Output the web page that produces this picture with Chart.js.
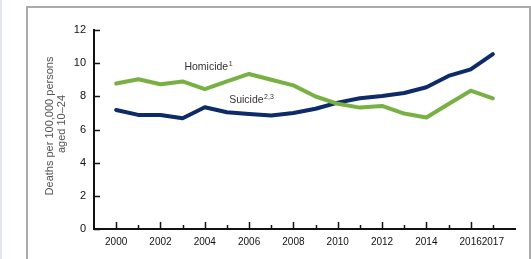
<!DOCTYPE html>
<html>
<head>
<meta charset="utf-8">
<script src="https://cdn.jsdelivr.net/npm/chart.js@4"></script>
<style>
    html, body { margin: 0; padding: 0; background: #fff; }
    body { width: 531px; height: 259px; position: relative; overflow: hidden; }
    #edge { position: absolute; left: 0; top: 0; width: 2px; height: 259px; background: #e2e7ef; }
    #frame { position: absolute; left: 26px; top: 6px; width: 501px; height: 270px;
             border-left: 2px solid #ababab; border-top: 2px solid #ababab; border-right: 2px solid #ababab; }
    #chart { position: absolute; left: 0; top: 0; }
</style>
</head>
<body>
<div id="edge"></div>
<div id="frame"></div>
<canvas id="chart" width="531" height="259"></canvas>
<script>
const years = [2000, 2001, 2002, 2003, 2004, 2005, 2006, 2007, 2008, 2009, 2010, 2011, 2012, 2013, 2014, 2015, 2016, 2017];
const homicide = [8.77, 9.03, 8.73, 8.9, 8.43, 8.9, 9.35, 9.0, 8.66, 7.99, 7.55, 7.32, 7.42, 6.96, 6.72, 7.54, 8.34, 7.88];
const suicide = [7.18, 6.88, 6.88, 6.68, 7.34, 7.04, 6.94, 6.84, 7.0, 7.25, 7.62, 7.88, 8.02, 8.2, 8.55, 9.23, 9.63, 10.55];
const xTickYears = [2000, 2002, 2004, 2006, 2008, 2010, 2012, 2014, 2016, 2017];
const yTicks = [0, 2, 4, 6, 8, 10, 12];
const yTitle = ['Deaths per 100,000 persons', 'aged 10\u201324'];

const FONT = '"Liberation Sans", Arial, sans-serif';

// small inward tick marks, series labels and rotated axis title
const extras = {
    id: 'extras',
    afterDraw(chart) {
        const ctx = chart.ctx;
        const x = chart.scales.x, y = chart.scales.y;
        const area = chart.chartArea;
        ctx.save();
        ctx.strokeStyle = '#111';
        ctx.lineWidth = 1.5;
        years.forEach(yr => {
            const px = Math.round(x.getPixelForValue(yr)) + 0.5;
            const len = yr % 2 === 0 ? 7 : 4;
            ctx.beginPath();
            ctx.moveTo(px, area.bottom);
            ctx.lineTo(px, area.bottom - len);
            ctx.stroke();
        });
        yTicks.forEach(v => {
            const py = Math.round(y.getPixelForValue(v)) + 0.5;
            ctx.beginPath();
            ctx.moveTo(area.left, py);
            ctx.lineTo(area.left + 6, py);
            ctx.stroke();
        });

        function label(text, sup, xv, yv) {
            const px = x.getPixelForValue(xv), py = y.getPixelForValue(yv);
            ctx.fillStyle = '#333';
            ctx.textBaseline = 'middle';
            ctx.textAlign = 'left';
            ctx.font = '10.5px ' + FONT;
            ctx.fillText(text, px, py);
            const w = ctx.measureText(text).width;
            ctx.font = '7px ' + FONT;
            ctx.fillText(sup, px + w + 0.5, py - 3);
        }
        label('Homicide', '1', 2003.08, 9.79);
        label('Suicide', '2,3', 2005.1, 7.75);

        ctx.fillStyle = '#555';
        ctx.font = '11px ' + FONT;
        ctx.textAlign = 'center';
        ctx.textBaseline = 'middle';
        ctx.translate(50, 126);
        ctx.rotate(-Math.PI / 2);
        ctx.fillText(yTitle[0], 0, 0);
        ctx.fillText(yTitle[1], 2, 12);
        ctx.restore();
    }
};

new Chart(document.getElementById('chart').getContext('2d'), {
    type: 'line',
    data: {
        datasets: [{
            label: 'Homicide',
            data: years.map((yr, i) => ({ x: yr, y: homicide[i] })),
            borderColor: '#78b043',
            borderWidth: 4,
            pointRadius: 0,
            tension: 0,
            borderJoinStyle: 'round',
            borderCapStyle: 'round'
        }, {
            label: 'Suicide',
            data: years.map((yr, i) => ({ x: yr, y: suicide[i] })),
            borderColor: '#0c2b68',
            borderWidth: 4,
            pointRadius: 0,
            tension: 0,
            borderJoinStyle: 'round',
            borderCapStyle: 'round'
        }]
    },
    options: {
        responsive: false,
        animation: false,
        layout: { padding: { top: 30, right: 16, left: 0, bottom: 0 } },
        plugins: {
            legend: { display: false },
            tooltip: { enabled: false }
        },
        scales: {
            x: {
                type: 'linear',
                min: 1999,
                max: 2018,
                grid: { display: false, drawTicks: false },
                border: { display: true, color: '#111', width: 2 },
                afterBuildTicks: axis => { axis.ticks = xTickYears.map(v => ({ value: v })); },
                afterFit: axis => { axis.height = 30; },
                ticks: {
                    autoSkip: false,
                    maxRotation: 0,
                    padding: 7,
                    color: '#111',
                    font: { family: FONT, size: 10 },
                    callback: v => String(v)
                }
            },
            y: {
                min: 0,
                max: 12,
                grid: { display: false, drawTicks: false },
                border: { display: true, color: '#111', width: 2 },
                afterBuildTicks: axis => { axis.ticks = yTicks.map(v => ({ value: v })); },
                afterFit: axis => { axis.width = 94; },
                ticks: {
                    padding: 8,
                    color: '#111',
                    font: { family: FONT, size: 11 },
                    callback: v => String(v)
                }
            }
        }
    },
    plugins: [extras]
});
</script>
</body>
</html>
